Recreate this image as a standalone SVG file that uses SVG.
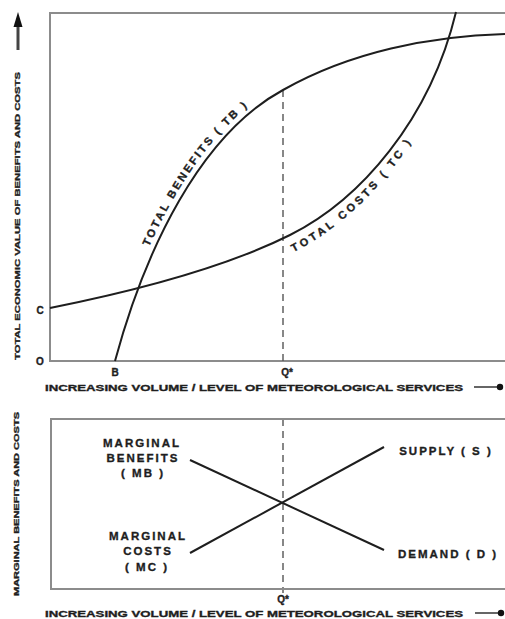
<svg xmlns="http://www.w3.org/2000/svg" width="505" height="619" viewBox="0 0 505 619">
  <style>
    .frame { fill: none; stroke: #8c8c8c; stroke-width: 2; }
    .curve { fill: none; stroke: #1e1e1e; stroke-width: 2; }
    .dash { fill: none; stroke: #555; stroke-width: 1.4; stroke-dasharray: 7 5; }
    .lbl { font-family: "Liberation Sans", Arial, sans-serif; font-weight: bold; fill: #1e1e1e; stroke: #1e1e1e; stroke-width: 0.35; }
    .axis { font-size: 9.5px; }
    .curvelbl { font-size: 11px; letter-spacing: 2.4px; }
    .curvelbl.wide { letter-spacing: 3.2px; }
    .mlbl { font-size: 11.5px; letter-spacing: 2px; text-anchor: middle; }
    .tick { font-size: 10px; text-anchor: middle; }
  </style>
  <defs>
    <path id="tbText" d="M110,358 C140,246 196,130 280,85 C300,74 320,66 340,60"/>
    <path id="tcText" d="M290,254 C362,219 429,140 457,40"/>
    <marker id="dot" markerWidth="8" markerHeight="8" refX="4" refY="4" markerUnits="userSpaceOnUse">
      <circle cx="4" cy="4" r="3.2" fill="#111"/>
    </marker>
  </defs>

  <rect width="505" height="619" fill="#fff"/>

  <!-- upper chart: total benefits and costs -->
  <g id="top-frame">
    <path class="frame" d="M510,13 H50 V361 H510"/>
  </g>
  <g id="top-y-axis">
    <line x1="18" y1="50" x2="18" y2="24" stroke="#444" stroke-width="3"/>
    <polygon points="18,12 13.5,27 22.5,27" fill="#111"/>
    <text class="lbl" font-size="8" transform="translate(20,216) rotate(-90)" text-anchor="middle" textLength="288" lengthAdjust="spacingAndGlyphs">TOTAL ECONOMIC VALUE OF BENEFITS AND COSTS</text>
    <text class="lbl tick" x="40" y="314">C</text>
    <text class="lbl tick" x="40" y="365">O</text>
  </g>
  <g id="top-x-axis">
    <text class="lbl tick" x="115" y="376">B</text>
    <text class="lbl tick" x="287" y="376">Q*</text>
    <text class="lbl axis" x="45" y="391" textLength="418" lengthAdjust="spacingAndGlyphs">INCREASING VOLUME / LEVEL OF METEOROLOGICAL SERVICES</text>
    <line x1="474" y1="387" x2="500" y2="387" stroke="#333" stroke-width="1.5" marker-end="url(#dot)"/>
  </g>

  <g id="connectors">
    <!-- optimum level Q* -->
    <line class="dash" x1="283" y1="90" x2="283" y2="361"/>
    <line class="dash" x1="283" y1="419" x2="283" y2="593"/>
    <!-- total benefits -->
    <path id="tb-curve" class="curve" d="M115,361 C145,250 200,135 283,90 C350,52 430,36 505,34"/>
    <!-- total costs -->
    <path id="tc-curve" class="curve" d="M50,308 C150,288 230,265 290,235 C360,200 430,120 456,12"/>
    <!-- marginal benefits / demand -->
    <line id="mb-line" class="curve" x1="190" y1="460" x2="384" y2="550"/>
    <!-- marginal costs / supply -->
    <line id="mc-line" class="curve" x1="190" y1="553" x2="384" y2="447"/>
  </g>

  <g id="tb-label">
    <text class="lbl curvelbl"><textPath href="#tbText" startOffset="118">TOTAL  BENEFITS  ( TB )</textPath></text>
  </g>
  <g id="tc-label">
    <text class="lbl curvelbl wide"><textPath href="#tcText" startOffset="4">TOTAL  COSTS  ( TC )</textPath></text>
  </g>

  <!-- lower chart: marginal benefits and costs -->
  <g id="bottom-frame">
    <path class="frame" d="M510,419 H51 V589 H510"/>
  </g>
  <g id="bottom-y-axis">
    <text class="lbl" font-size="7.5" transform="translate(19,504) rotate(-90)" text-anchor="middle" textLength="184" lengthAdjust="spacingAndGlyphs">MARGINAL BENEFITS AND COSTS</text>
  </g>
  <g id="mb-node">
    <text class="lbl mlbl" x="142" y="447">MARGINAL</text>
    <text class="lbl mlbl" x="143" y="462">BENEFITS</text>
    <text class="lbl mlbl" x="143" y="477">( MB )</text>
  </g>
  <g id="mc-node">
    <text class="lbl mlbl" x="148" y="540">MARGINAL</text>
    <text class="lbl mlbl" x="148" y="555">COSTS</text>
    <text class="lbl mlbl" x="147" y="571">( MC )</text>
  </g>
  <g id="supply-node">
    <text class="lbl mlbl" x="446" y="455">SUPPLY ( S )</text>
  </g>
  <g id="demand-node">
    <text class="lbl mlbl" x="448" y="558">DEMAND ( D )</text>
  </g>
  <g id="bottom-x-axis">
    <text class="lbl tick" x="283" y="603">Q*</text>
    <text class="lbl axis" x="45" y="617" textLength="418" lengthAdjust="spacingAndGlyphs">INCREASING VOLUME / LEVEL OF METEOROLOGICAL SERVICES</text>
    <line x1="475" y1="613" x2="501" y2="613" stroke="#333" stroke-width="1.5" marker-end="url(#dot)"/>
  </g>
</svg>
